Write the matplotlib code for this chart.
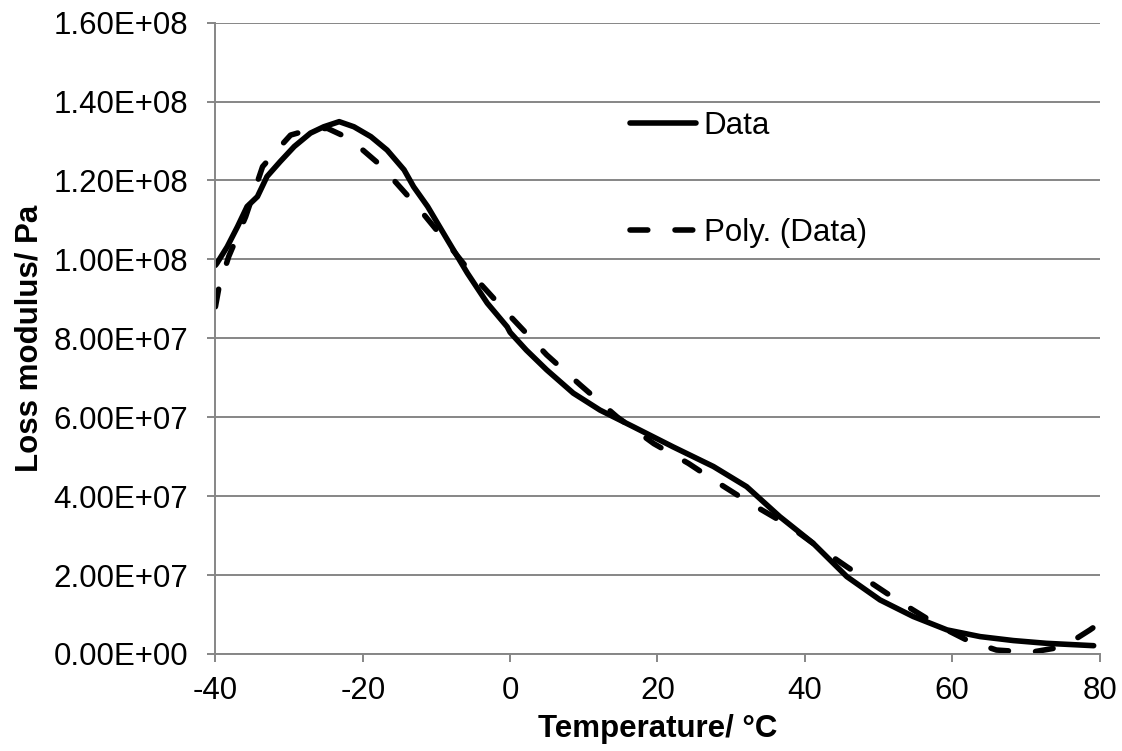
import matplotlib
matplotlib.use("Agg")
import matplotlib.pyplot as plt
from matplotlib.ticker import FuncFormatter, MultipleLocator

plt.rcParams["font.family"] = ["Liberation Sans", "DejaVu Sans"]
plt.rcParams["axes.unicode_minus"] = False

GRID_COLOR = "#868686"
FONT_SIZE = 22.5

# measured loss modulus (Pa, in units of 1e7)
data_temp = [-40, -39.8, -38.4, -37.0, -35.7, -34.3, -33.0, -31.2, -29.3, -27.1,
             -25.3, -23.2, -21.2, -18.9, -16.7, -14.4, -13.1, -11.2, -8.5, -5.8,
             -3.1, -0.4, 0.0, 2.2, 4.96, 8.57, 12.2, 16.7, 22.1, 27.6,
             32.1, 36.6, 41.1, 45.7, 50.2, 54.7, 59.3, 63.8, 68.3, 72.8, 79.2]
data_mod = [9.85, 9.90, 10.32, 10.83, 11.34, 11.59, 12.10, 12.48, 12.86, 13.20,
            13.36, 13.49, 13.36, 13.11, 12.77, 12.27, 11.84, 11.34, 10.49, 9.65,
            8.89, 8.29, 8.15, 7.70, 7.20, 6.61, 6.18, 5.76, 5.25, 4.75,
            4.24, 3.48, 2.81, 1.96, 1.37, 0.95, 0.61, 0.44, 0.34, 0.27, 0.21]

# polynomial trend line (same units)
poly_temp = [-40, -39.5, -38.2, -35.9, -33.6, -31.5, -29.8, -27.0, -24.8, -22.5,
             -20.3, -18.0, -15.8, -12.6, -8.7, -4.9, -0.8, 4.96, 9.5, 14.5,
             19.5, 24.2, 27.6, 32.6, 38.0, 41.5, 45.7, 51.1, 54.3, 58.4,
             62.0, 66.0, 70.6, 73.7, 76.5, 78.7, 80]
poly_mod = [8.8, 9.31, 10.07, 11.08, 12.35, 12.80, 13.15, 13.30, 13.32, 13.12,
            12.82, 12.45, 12.01, 11.34, 10.45, 9.56, 8.72, 7.58, 6.82, 6.01,
            5.33, 4.83, 4.41, 3.82, 3.23, 2.75, 2.21, 1.54, 1.16, 0.69,
            0.35, 0.10, 0.04, 0.14, 0.35, 0.61, 0.78]

fig = plt.figure(figsize=(11.22, 7.51), dpi=100)
ax = fig.add_axes([0.192, 0.1292, 0.788, 0.8407])

ax.plot(data_temp, [v * 1e7 for v in data_mod], color="black", lw=4,
        solid_capstyle="round", solid_joinstyle="round", label="Data")
ax.plot(poly_temp, [v * 1e7 for v in poly_mod], color="black", lw=4,
        dashes=(3.2, 4.9), dash_capstyle="round", dash_joinstyle="round",
        label="Poly. (Data)")

ax.set_xlim(-40, 80)
ax.set_ylim(0, 1.6e8)
ax.xaxis.set_major_locator(MultipleLocator(20))
ax.yaxis.set_major_locator(MultipleLocator(2e7))
ax.yaxis.set_major_formatter(FuncFormatter(lambda v, _: f"{v:.2E}"))

ax.grid(axis="y", color=GRID_COLOR, lw=1.4)
ax.set_axisbelow(True)
for side in ("top", "right"):
    ax.spines[side].set_visible(False)
for side in ("left", "bottom"):
    ax.spines[side].set_color(GRID_COLOR)
    ax.spines[side].set_linewidth(1.4)
ax.tick_params(axis="both", colors=GRID_COLOR, length=5.8, width=1.4,
               labelcolor="black", labelsize=FONT_SIZE)
ax.tick_params(axis="y", pad=14)
ax.tick_params(axis="x", pad=10)

ax.set_xlabel("Temperature/ °C", fontsize=FONT_SIZE, fontweight="bold")
ax.set_ylabel("Loss modulus/ Pa", fontsize=FONT_SIZE, fontweight="bold")
ax.xaxis.set_label_coords(0.5, -0.095)
ax.yaxis.set_label_coords(-0.193, 0.5)

ax.legend(loc="upper left", bbox_to_anchor=(0.469, 0.86), frameon=False,
          fontsize=FONT_SIZE, handlelength=2.1, handletextpad=0.25,
          labelspacing=2.45, borderpad=0, borderaxespad=0)

fig.savefig("out.png", dpi=100)
plt.close(fig)
